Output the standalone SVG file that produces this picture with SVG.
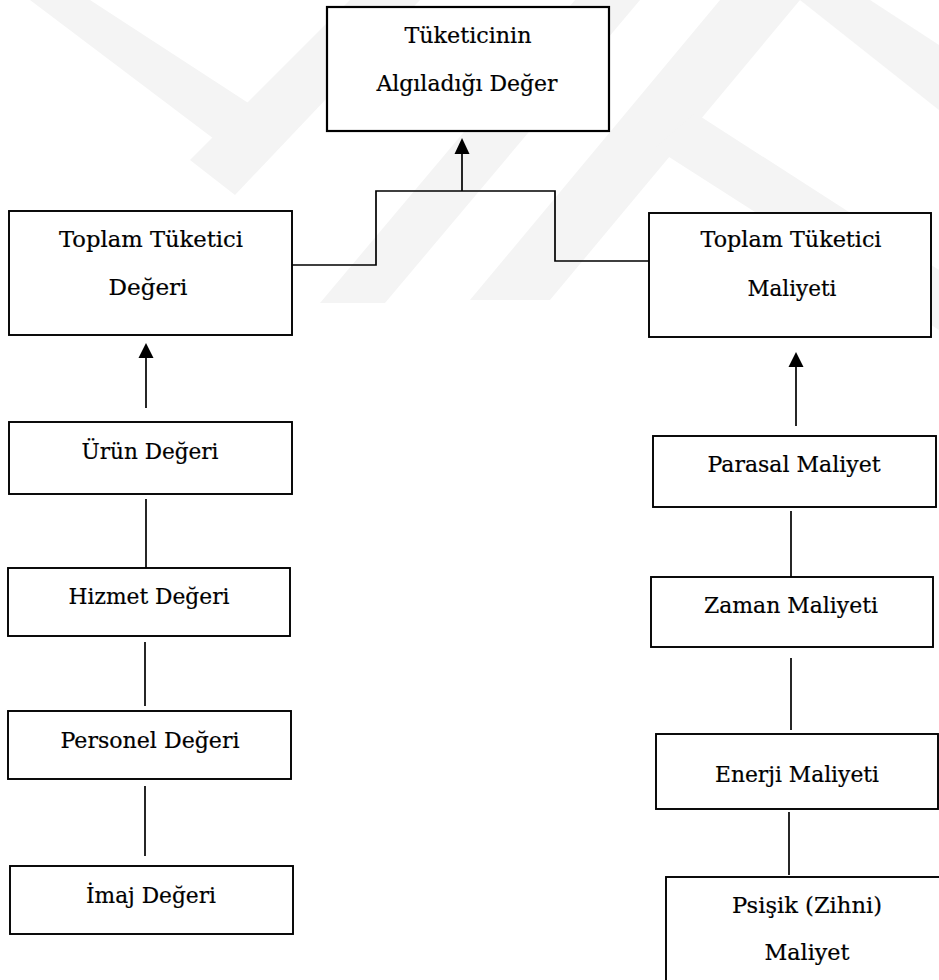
<svg xmlns="http://www.w3.org/2000/svg" width="939" height="980" viewBox="0 0 939 980">
  <defs>
    <style>
      .box { fill: #ffffff; stroke: #000000; stroke-width: 1.9; }
      .wire { fill: none; stroke: #000000; stroke-width: 1.7; }
      .head { fill: #000000; stroke: none; }
      .lbl { font-family: "DejaVu Serif", "Liberation Serif", serif; font-size: 22px; fill: #000000; stroke: #000000; stroke-width: 0.2; text-anchor: middle; }
      .wm { fill: #f4f4f4; stroke: none; }
    </style>
  </defs>
  <rect x="0" y="0" width="939" height="980" fill="#ffffff"/>

  <!-- faint background emblem -->
  <g id="emblem">
    <polygon class="wm" points="30,0 90,0 262,112 222,145"/>
    <polygon class="wm" points="190,160 235,195 420,0 350,0"/>
    <polygon class="wm" points="320,303 385,303 640,0 575,0"/>
    <polygon class="wm" points="470,300 550,300 800,0 720,0"/>
    <polygon class="wm" points="655,148 695,113 939,270 939,330"/>
    <polygon class="wm" points="800,0 870,0 939,45 939,110"/>
  </g>

  <!-- connectors -->
  <g id="connectors">
    <path class="wire" d="M292,265 H376 V191 H555 V261 H649"/>
    <line class="wire" x1="462" y1="191" x2="462" y2="153"/>
    <polygon class="head" points="462,138 454.5,154 469.5,154"/>
    <line class="wire" x1="146" y1="408" x2="146" y2="357"/>
    <polygon class="head" points="146,343 138.5,358 153.5,358"/>
    <line class="wire" x1="796" y1="426" x2="796" y2="366"/>
    <polygon class="head" points="796,352 788.5,367 803.5,367"/>
    <line class="wire" x1="146" y1="499" x2="146" y2="568"/>
    <line class="wire" x1="145" y1="642" x2="145" y2="706"/>
    <line class="wire" x1="145" y1="786" x2="145" y2="856"/>
    <line class="wire" x1="791" y1="511" x2="791" y2="580"/>
    <line class="wire" x1="791" y1="658" x2="791" y2="730"/>
    <line class="wire" x1="789" y1="812" x2="789" y2="875"/>
  </g>

  <g id="node-perceived-value">
    <rect class="box" x="327" y="7" width="282" height="124" style="stroke-width:2.2"/>
    <text class="lbl" x="468" y="43" textLength="127" lengthAdjust="spacingAndGlyphs">Tüketicinin</text>
    <text class="lbl" x="467" y="91" textLength="181" lengthAdjust="spacingAndGlyphs">Algıladığı Değer</text>
  </g>

  <g id="node-total-value">
    <rect class="box" x="9" y="211" width="283" height="124"/>
    <text class="lbl" x="151" y="247" textLength="184" lengthAdjust="spacingAndGlyphs">Toplam Tüketici</text>
    <text class="lbl" x="148" y="295" textLength="79" lengthAdjust="spacingAndGlyphs">Değeri</text>
  </g>

  <g id="node-total-cost">
    <rect class="box" x="649" y="213" width="282" height="124"/>
    <text class="lbl" x="791" y="247" textLength="181" lengthAdjust="spacingAndGlyphs">Toplam Tüketici</text>
    <text class="lbl" x="792" y="296" textLength="89" lengthAdjust="spacingAndGlyphs">Maliyeti</text>
  </g>

  <g id="node-product">
    <rect class="box" x="9" y="422" width="283" height="72"/>
    <text class="lbl" x="150" y="459" textLength="137" lengthAdjust="spacingAndGlyphs">Ürün Değeri</text>
  </g>

  <g id="node-service">
    <rect class="box" x="8" y="568" width="282" height="68"/>
    <text class="lbl" x="149" y="604" textLength="161" lengthAdjust="spacingAndGlyphs">Hizmet Değeri</text>
  </g>

  <g id="node-personnel">
    <rect class="box" x="8" y="711" width="283" height="68"/>
    <text class="lbl" x="150" y="748" textLength="179" lengthAdjust="spacingAndGlyphs">Personel Değeri</text>
  </g>

  <g id="node-image">
    <rect class="box" x="10" y="866" width="283" height="68"/>
    <text class="lbl" x="151" y="903" textLength="130" lengthAdjust="spacingAndGlyphs">İmaj Değeri</text>
  </g>

  <g id="node-monetary">
    <rect class="box" x="653" y="436" width="283" height="71"/>
    <text class="lbl" x="794" y="472" textLength="173" lengthAdjust="spacingAndGlyphs">Parasal Maliyet</text>
  </g>

  <g id="node-time">
    <rect class="box" x="651" y="577" width="282" height="70"/>
    <text class="lbl" x="791" y="613" textLength="174" lengthAdjust="spacingAndGlyphs">Zaman Maliyeti</text>
  </g>

  <g id="node-energy">
    <rect class="box" x="656" y="734" width="282" height="75"/>
    <text class="lbl" x="797" y="782" textLength="164" lengthAdjust="spacingAndGlyphs">Enerji Maliyeti</text>
  </g>

  <g id="node-psychic">
    <rect class="box" x="666" y="877" width="290" height="120"/>
    <text class="lbl" x="807" y="913" textLength="150" lengthAdjust="spacingAndGlyphs">Psişik (Zihni)</text>
    <text class="lbl" x="807" y="960" textLength="85" lengthAdjust="spacingAndGlyphs">Maliyet</text>
  </g>
</svg>
